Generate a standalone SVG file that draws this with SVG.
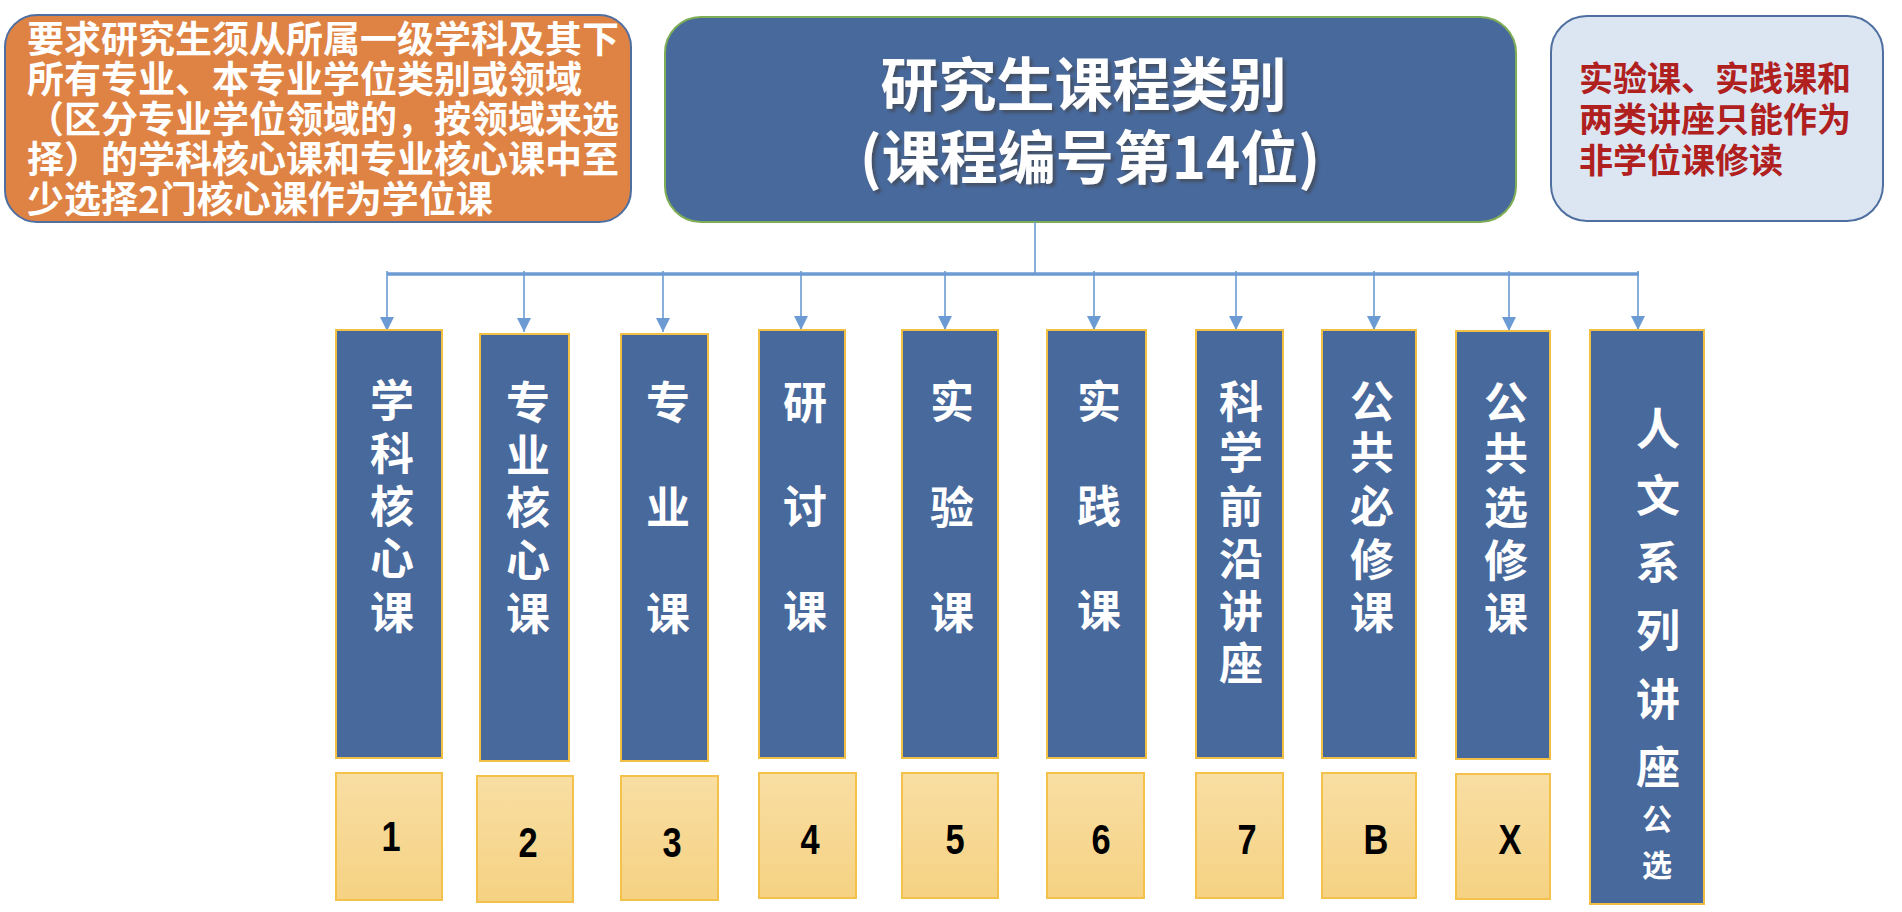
<svg xmlns="http://www.w3.org/2000/svg" width="1902" height="912" viewBox="0 0 1902 912">
<defs>
<style>
.cjk{font-family:"Noto Sans CJK SC","Noto Sans CJK JP",sans-serif;font-weight:bold}
.col{fill:#48699C;stroke:#F2BF45;stroke-width:2}
.num{fill:url(#yg);stroke:#F4C24A;stroke-width:2}
.vt{fill:#fff;font-size:44px;text-anchor:middle}
.vs{fill:#fff;font-size:30px;text-anchor:middle}
.dg{font-family:"Liberation Sans",Arial,sans-serif;font-weight:bold;font-size:42px;fill:#000;text-anchor:middle}
.drop{stroke:#6B9BD2;stroke-width:1.6;marker-end:url(#ah)}
</style>
<linearGradient id="yg" x1="0" y1="0" x2="0" y2="1"><stop offset="0" stop-color="#F9DEA3"/><stop offset="1" stop-color="#F5D283"/></linearGradient>
<marker id="ah" viewBox="0 0 14 14" refX="14" refY="7" markerWidth="14" markerHeight="14" markerUnits="userSpaceOnUse" orient="auto"><path d="M0,0 L14,7 L0,14 z" fill="#6B9BD2"/></marker>
<filter id="sh" x="-10%" y="-20%" width="130%" height="150%"><feDropShadow dx="3" dy="3" stdDeviation="1.5" flood-color="#404040" flood-opacity="0.6"/></filter>
</defs>
<rect width="1902" height="912" fill="#fff"/>

<g id="note-left">
<rect x="5" y="15" width="626" height="207" rx="32" fill="#DF8344" stroke="#4F6FA0" stroke-width="2"/>
<text class="cjk" font-size="37" fill="#fff">
<tspan x="27" y="53">要求研究生须从所属一级学科及其下</tspan>
<tspan x="27" y="93">所有专业、本专业学位类别或领域</tspan>
<tspan x="27" y="133">（区分专业学位领域的，按领域来选</tspan>
<tspan x="27" y="173">择）的学科核心课和专业核心课中至</tspan>
<tspan x="27" y="213">少选择2门核心课作为学位课</tspan>
</text>
</g>

<g id="root">
<rect x="665" y="17" width="851" height="205" rx="36" fill="#48699C" stroke="#7DAD54" stroke-width="2"/>
<text class="cjk" font-size="58" fill="#fff" text-anchor="middle" filter="url(#sh)">
<tspan x="1090" y="106">研究生课程类别</tspan>
<tspan x="1090" y="179">(课程编号第14位)</tspan>
</text>
</g>

<g id="note-right">
<rect x="1551" y="16" width="332" height="205" rx="36" fill="#DCE6F2" stroke="#4F6FA0" stroke-width="2"/>
<text class="cjk" font-size="34" fill="#B0201E">
<tspan x="1579" y="91">实验课、实践课和</tspan>
<tspan x="1579" y="132">两类讲座只能作为</tspan>
<tspan x="1579" y="173">非学位课修读</tspan>
</text>
</g>

<g id="connectors">
<line x1="1035" y1="222" x2="1035" y2="274" stroke="#6B9BD2" stroke-width="1.6"/>
<line x1="387" y1="274" x2="1639" y2="274" stroke="#6B9BD2" stroke-width="3.5"/>
<line class="drop" x1="387" y1="271" x2="387" y2="331"/>
<line class="drop" x1="524" y1="271" x2="524" y2="332"/>
<line class="drop" x1="663" y1="271" x2="663" y2="332"/>
<line class="drop" x1="801" y1="271" x2="801" y2="330"/>
<line class="drop" x1="945" y1="271" x2="945" y2="330"/>
<line class="drop" x1="1094" y1="271" x2="1094" y2="330"/>
<line class="drop" x1="1236" y1="271" x2="1236" y2="330"/>
<line class="drop" x1="1374" y1="271" x2="1374" y2="330"/>
<line class="drop" x1="1509" y1="271" x2="1509" y2="331"/>
<line class="drop" x1="1638" y1="271" x2="1638" y2="330"/>
</g>

<g id="c1">
<rect class="col" x="336" y="330" width="106" height="428"/>
<text class="cjk vt"><tspan x="392" y="417">学</tspan><tspan x="392" y="470">科</tspan><tspan x="392" y="523">核</tspan><tspan x="392" y="575">心</tspan><tspan x="392" y="629">课</tspan></text>
<rect class="num" x="336" y="773" width="106" height="127"/>
<text class="dg" transform="translate(391,851) scale(0.82,1)">1</text>
</g>

<g id="c2">
<rect class="col" x="480" y="334" width="89" height="427"/>
<text class="cjk vt"><tspan x="528" y="419">专</tspan><tspan x="528" y="472">业</tspan><tspan x="528" y="524">核</tspan><tspan x="528" y="577">心</tspan><tspan x="528" y="630">课</tspan></text>
<rect class="num" x="477" y="776" width="96" height="126"/>
<text class="dg" transform="translate(528,857) scale(0.82,1)">2</text>
</g>

<g id="c3">
<rect class="col" x="621" y="334" width="87" height="427"/>
<text class="cjk vt"><tspan x="668" y="419">专</tspan><tspan x="668" y="524">业</tspan><tspan x="668" y="630">课</tspan></text>
<rect class="num" x="621" y="776" width="97" height="124"/>
<text class="dg" transform="translate(672,857) scale(0.82,1)">3</text>
</g>

<g id="c4">
<rect class="col" x="759" y="330" width="86" height="428"/>
<text class="cjk vt"><tspan x="805" y="419">研</tspan><tspan x="805" y="523">讨</tspan><tspan x="805" y="628">课</tspan></text>
<rect class="num" x="759" y="773" width="97" height="125"/>
<text class="dg" transform="translate(810,854) scale(0.82,1)">4</text>
</g>

<g id="c5">
<rect class="col" x="902" y="330" width="96" height="428"/>
<text class="cjk vt"><tspan x="952" y="418">实</tspan><tspan x="952" y="524">验</tspan><tspan x="952" y="629">课</tspan></text>
<rect class="num" x="902" y="773" width="96" height="125"/>
<text class="dg" transform="translate(955,854) scale(0.82,1)">5</text>
</g>

<g id="c6">
<rect class="col" x="1047" y="330" width="99" height="428"/>
<text class="cjk vt"><tspan x="1099" y="418">实</tspan><tspan x="1099" y="523">践</tspan><tspan x="1099" y="627">课</tspan></text>
<rect class="num" x="1047" y="773" width="97" height="125"/>
<text class="dg" transform="translate(1101,854) scale(0.82,1)">6</text>
</g>

<g id="c7">
<rect class="col" x="1196" y="330" width="87" height="428"/>
<text class="cjk vt"><tspan x="1241" y="418">科</tspan><tspan x="1241" y="469">学</tspan><tspan x="1241" y="523">前</tspan><tspan x="1241" y="575">沿</tspan><tspan x="1241" y="628">讲</tspan><tspan x="1241" y="680">座</tspan></text>
<rect class="num" x="1196" y="773" width="87" height="125"/>
<text class="dg" transform="translate(1247,854) scale(0.82,1)">7</text>
</g>

<g id="c8">
<rect class="col" x="1322" y="330" width="94" height="428"/>
<text class="cjk vt"><tspan x="1372" y="418">公</tspan><tspan x="1372" y="469">共</tspan><tspan x="1372" y="523">必</tspan><tspan x="1372" y="576">修</tspan><tspan x="1372" y="629">课</tspan></text>
<rect class="num" x="1322" y="773" width="94" height="125"/>
<text class="dg" transform="translate(1376,854) scale(0.82,1)">B</text>
</g>

<g id="c9">
<rect class="col" x="1456" y="331" width="94" height="428"/>
<text class="cjk vt"><tspan x="1506" y="419">公</tspan><tspan x="1506" y="470">共</tspan><tspan x="1506" y="524">选</tspan><tspan x="1506" y="577">修</tspan><tspan x="1506" y="630">课</tspan></text>
<rect class="num" x="1456" y="774" width="94" height="125"/>
<text class="dg" transform="translate(1510,854) scale(0.82,1)">X</text>
</g>

<g id="c10">
<rect class="col" x="1590" y="330" width="114" height="574"/>
<text class="cjk vt"><tspan x="1658" y="445">人</tspan><tspan x="1658" y="512">文</tspan><tspan x="1658" y="579">系</tspan><tspan x="1658" y="647">列</tspan><tspan x="1658" y="716">讲</tspan><tspan x="1658" y="784">座</tspan></text>
<text class="cjk vs"><tspan x="1657" y="830">公</tspan><tspan x="1657" y="876">选</tspan></text>
</g>
</svg>
